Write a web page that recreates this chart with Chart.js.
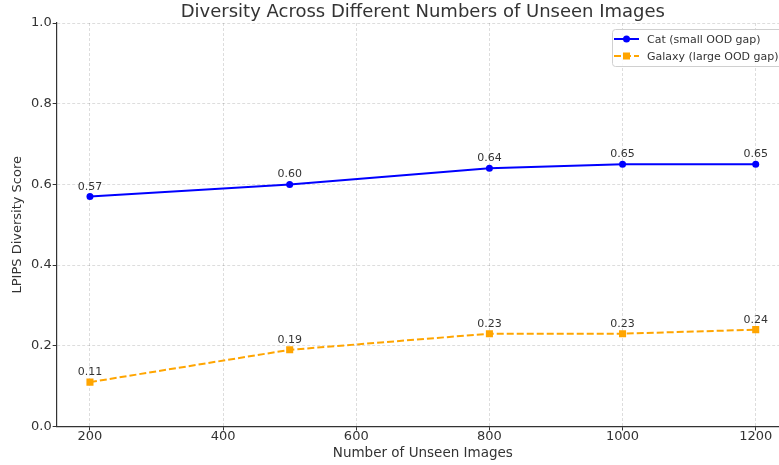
<!DOCTYPE html>
<html>
<head>
<meta charset="utf-8">
<script src="https://cdn.jsdelivr.net/npm/chart.js@4.4.1/dist/chart.umd.min.js"></script>
<style>
  html, body { margin: 0; padding: 0; background: #fff; overflow: hidden; }
  #wrap { width: 800px; height: 465px; }
</style>
</head>
<body>
<div id="wrap"><canvas id="chart"></canvas></div>
<script>
// Values
const unseenImages = [200, 500, 800, 1000, 1200];
const catScores = [0.57, 0.60, 0.64, 0.65, 0.65];
const galaxyScores = [0.11, 0.19, 0.23, 0.23, 0.24];
const seriesNames = ['Cat (small OOD gap)', 'Galaxy (large OOD gap)'];
const xTicks = [200, 400, 600, 800, 1000, 1200];
const chartTitle = 'Diversity Across Different Numbers of Unseen Images';

const textColor = '#333333';
const font = 'DejaVu Sans';

// Title centred over the plot area (matplotlib style)
const plotTitle = {
    id: 'plotTitle',
    afterDraw(chart) {
        const ctx = chart.ctx;
        const a = chart.chartArea;
        ctx.save();
        ctx.font = '18px ' + font;
        ctx.fillStyle = textColor;
        ctx.textAlign = 'center';
        ctx.textBaseline = 'alphabetic';
        ctx.fillText(chartTitle, (a.left + a.right) / 2, 17);
        ctx.restore();
    }
};

// Labels above every point
const valueLabels = {
    id: 'valueLabels',
    afterDatasetsDraw(chart) {
        const ctx = chart.ctx;
        ctx.save();
        ctx.font = '11px ' + font;
        ctx.fillStyle = textColor;
        ctx.textAlign = 'center';
        ctx.textBaseline = 'alphabetic';
        chart.data.datasets.forEach((ds, i) => {
            chart.getDatasetMeta(i).data.forEach((pt, j) => {
                ctx.fillText(ds.data[j].y.toFixed(2), pt.x, pt.y - 7);
            });
        });
        ctx.restore();
    }
};

// Legend box in the top right corner
const boxLegend = {
    id: 'boxLegend',
    afterDraw(chart) {
        const ctx = chart.ctx;
        const x0 = 612, y0 = 29, w = 180, h = 37;
        ctx.save();
        ctx.fillStyle = 'rgba(255,255,255,0.85)';
        ctx.strokeStyle = '#d0d0d0';
        ctx.lineWidth = 1;
        ctx.beginPath();
        ctx.roundRect(x0 + 0.5, y0 + 0.5, w, h, 3);
        ctx.fill();
        ctx.stroke();
        ctx.font = '11px ' + font;
        ctx.textBaseline = 'middle';
        chart.data.datasets.forEach((ds, i) => {
            const y = y0 + 10 + i * 17;
            ctx.strokeStyle = ds.borderColor;
            ctx.lineWidth = 2;
            ctx.setLineDash(ds.borderDash || []);
            ctx.beginPath();
            ctx.moveTo(x0 + 2, y);
            ctx.lineTo(x0 + 27, y);
            ctx.stroke();
            ctx.setLineDash([]);
            ctx.fillStyle = ds.borderColor;
            if (ds.pointStyle === 'rect') {
                ctx.fillRect(x0 + 11, y - 3.5, 7, 7);
            } else {
                ctx.beginPath();
                ctx.arc(x0 + 14.5, y, 3.5, 0, Math.PI * 2);
                ctx.fill();
            }
            ctx.fillStyle = textColor;
            ctx.fillText(ds.label, x0 + 35, y + 1);
        });
        ctx.restore();
    }
};

const gridStyle = {
    color: 'rgba(0,0,0,0.17)',
    lineWidth: 0.8,
    tickColor: '#333',
    tickLength: 4,
    tickBorderDash: [],
    tickWidth: 1
};

new Chart(document.getElementById('chart'), {
    type: 'line',
    data: {
        datasets: [{
            label: seriesNames[0],
            data: unseenImages.map((x, i) => ({ x: x, y: catScores[i] })),
            borderColor: '#0000ff',
            backgroundColor: '#0000ff',
            borderWidth: 2,
            pointStyle: 'circle',
            pointRadius: 3.5,
            pointBorderWidth: 0,
            tension: 0
        }, {
            label: seriesNames[1],
            data: unseenImages.map((x, i) => ({ x: x, y: galaxyScores[i] })),
            borderColor: '#ffa500',
            backgroundColor: '#ffa500',
            borderWidth: 2,
            borderDash: [7, 3],
            pointStyle: 'rect',
            pointRadius: 5,
            pointBorderWidth: 0,
            tension: 0
        }]
    },
    options: {
        responsive: true,
        maintainAspectRatio: false,
        animation: false,
        layout: { padding: { top: 23, right: 11, left: 11, bottom: 5 } },
        scales: {
            x: {
                type: 'linear',
                min: 150,
                max: 1250,
                afterBuildTicks: (axis) => {
                    axis.ticks = xTicks.map(v => ({ value: v }));
                },
                title: {
                    display: true,
                    text: 'Number of Unseen Images',
                    color: textColor,
                    font: { family: font, size: 13.5, lineHeight: 1 },
                    padding: { top: 3, bottom: 0 }
                },
                ticks: {
                    color: textColor,
                    font: { family: font, size: 13, lineHeight: 1 },
                    padding: 0,
                    callback: (v) => String(v)
                },
                grid: Object.assign({ borderDash: [3, 2] }, gridStyle),
                border: { color: '#333', width: 1.2, dash: [3, 2] }
            },
            y: {
                min: 0,
                max: 1,
                ticks: {
                    stepSize: 0.2,
                    color: textColor,
                    font: { family: font, size: 13, lineHeight: 1 },
                    padding: 1,
                    callback: (v) => v.toFixed(1)
                },
                title: {
                    display: true,
                    text: 'LPIPS Diversity Score',
                    color: textColor,
                    font: { family: font, size: 13, lineHeight: 1 },
                    padding: { top: 0, bottom: 6 }
                },
                grid: gridStyle,
                border: { color: '#333', width: 1.2, dash: [3, 2] }
            }
        },
        plugins: {
            legend: { display: false },
            tooltip: { enabled: false },
            title: { display: false }
        }
    },
    plugins: [plotTitle, valueLabels, boxLegend]
});
</script>
</body>
</html>
